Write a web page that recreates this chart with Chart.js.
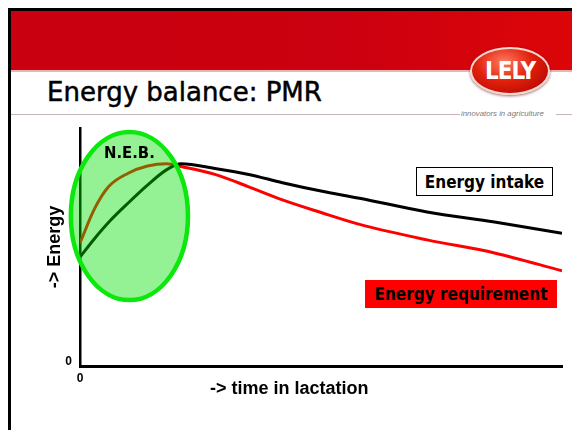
<!DOCTYPE html>
<html>
<head>
<meta charset="utf-8">
<script src="https://cdn.jsdelivr.net/npm/chart.js@4.4.1/dist/chart.umd.min.js"></script>
<style>
  html, body { margin: 0; padding: 0; background: #fff; }
  #slide { position: relative; width: 572px; height: 430px; overflow: hidden; background: #fff; }
  #slide div { position: absolute; }
  .frameTop { left: 8px; top: 8px; width: 564px; height: 3px; background: #000; }
  .frameLeft { left: 8px; top: 8px; width: 3px; height: 422px; background: #000; }
  .band { left: 11px; top: 11px; right: 0; height: 59px; background: linear-gradient(to right, #c8000f 0%, #cc0010 60%, #dc0608 100%); }
  .bandEdge { left: 11px; top: 70px; right: 0; height: 2px; background: #eab4b4; }
  .title { left: 47px; top: 79px; font: 26px/26px "DejaVu Sans", sans-serif; color: #000; white-space: nowrap; -webkit-text-stroke: 0.5px #000; }
  .rule1 { left: 11px; top: 114px; width: 449px; height: 1px; background: #c8b4b4; }
  .rule2 { left: 556px; top: 114px; width: 16px; height: 1px; background: #c8b4b4; }
  .tagline { left: 461px; top: 109px; font: italic 7.8px/10px "Liberation Sans", sans-serif; color: #807878; white-space: nowrap; }
  .logo { left: 470px; top: 47px; width: 76px; height: 44px; border-radius: 50%; border: 2px solid #f3d6cf;
          background: radial-gradient(ellipse at 42% 30%, #ff7a60 0%, #e0200c 45%, #a80000 100%);
          box-shadow: 0 1px 3px rgba(90,0,0,0.6); color: #fff; text-align: center;
          font: bold 24px/44px "DejaVu Sans Condensed", "DejaVu Sans", sans-serif; letter-spacing: -1px; }
  canvas { position: absolute; left: 0; top: 0; }
  .neb { left: 104px; top: 144px; font: bold 16.5px/18px "DejaVu Sans Condensed", "DejaVu Sans", sans-serif; color: #000; z-index: 2; }
  .tag { display: flex; align-items: center; justify-content: center; box-sizing: border-box; z-index: 2;
         font: bold 17px/20px "DejaVu Sans Condensed", "DejaVu Sans", sans-serif; color: #000; white-space: nowrap; }
  .intake { left: 416px; top: 167px; width: 137px; height: 29px; background: #fff; border: 1px solid #000; }
  .req { left: 365px; top: 280px; width: 192px; height: 28px; background: #ff0000; }
  .xTitle { left: 210px; top: 377px; font: bold 18px/22px "Liberation Sans", Arial, sans-serif; color: #000; white-space: nowrap; z-index: 2; }
</style>
</head>
<body>
<div id="slide">
  <div class="band"></div>
  <div class="bandEdge"></div>
  <div class="frameTop"></div>
  <div class="frameLeft"></div>
  <div class="title">Energy balance: PMR</div>
  <div class="rule1"></div>
  <div class="rule2"></div>
  <div class="tagline">innovators in agriculture</div>
  <div class="logo">LELY</div>
  <canvas id="diagram" width="572" height="430"></canvas>
  <div class="neb">N.E.B.</div>
  <div class="tag intake">Energy intake</div>
  <div class="tag req">Energy requirement</div>
  <div class="xTitle">-&gt; time in lactation</div>
</div>
<script>
var days = [0, 3, 6, 10, 14, 18, 21, 28, 35, 42, 50, 58, 72, 86, 100];
var energyIntake = [45.8, 53.5, 60.5, 68.5, 76, 82.5, 85, 83, 80.5, 77, 73.5, 70.5, 64.7, 60.5, 55.8];
var energyRequirement = [51.7, 66, 75.5, 81, 84, 85, 83.8, 80.5, 75.3, 69.8, 64.5, 59.5, 53, 47.5, 40];
var xTicks = [0];
var yTicks = [0];

// zone N.E.B. (bilan energetique negatif), en unites des axes
var nebZone = { xMin: -1.9, xMax: 22.4, yMin: 27.7, yMax: 98.3 };

function toPoints(values) {
  return days.map(function (d, i) {
    return { x: d, y: values[i] };
  });
}

// ellipse verte dessinee par-dessus les courbes
var nebPlugin = {
  id: 'nebZone',
  afterDatasetsDraw: function (chart) {
    var ctx = chart.ctx;
    var xs = chart.scales.x, ys = chart.scales.y;
    var x0 = xs.getPixelForValue(nebZone.xMin), x1 = xs.getPixelForValue(nebZone.xMax);
    var y0 = ys.getPixelForValue(nebZone.yMax), y1 = ys.getPixelForValue(nebZone.yMin);
    ctx.save();
    ctx.beginPath();
    ctx.ellipse((x0 + x1) / 2, (y0 + y1) / 2, (x1 - x0) / 2, (y1 - y0) / 2, 0, 0, 2 * Math.PI);
    ctx.fillStyle = 'rgba(0, 225, 0, 0.42)';
    ctx.fill();
    ctx.lineWidth = 4.5;
    ctx.strokeStyle = '#0be80b';
    ctx.stroke();
    ctx.restore();
  }
};

var tickFont = { family: '"Liberation Sans", Arial, sans-serif', weight: 'bold', size: 12 };

var ctx = document.getElementById('diagram').getContext('2d');
var myChart = new Chart(ctx, {
  type: 'line',
  data: {
    datasets: [{
      label: 'Energy intake',
      data: toPoints(energyIntake),
      borderColor: '#000000',
      borderWidth: 3,
      pointRadius: 0,
      cubicInterpolationMode: 'monotone'
    }, {
      label: 'Energy requirement',
      data: toPoints(energyRequirement),
      borderColor: '#ff0000',
      borderWidth: 3,
      pointRadius: 0,
      cubicInterpolationMode: 'monotone'
    }]
  },
  options: {
    responsive: false,
    animation: false,
    layout: { padding: { top: 128, right: 10, left: 0, bottom: 0 } },
    plugins: { legend: { display: false }, tooltip: { enabled: false } },
    scales: {
      x: {
        type: 'linear',
        min: 0,
        max: 100,
        grid: { display: false, drawTicks: false },
        border: { display: true, color: '#000', width: 3 },
        afterBuildTicks: function (axis) {
          axis.ticks = xTicks.map(function (v) { return { value: v }; });
        },
        afterFit: function (axis) { axis.height = 64; },
        ticks: { color: '#000', font: tickFont, padding: 5, maxRotation: 0 }
      },
      y: {
        type: 'linear',
        min: 0,
        max: 100,
        grid: { display: false, drawTicks: false },
        border: { display: true, color: '#000', width: 2.5 },
        afterBuildTicks: function (axis) {
          axis.ticks = yTicks.map(function (v) { return { value: v }; });
        },
        afterFit: function (axis) { axis.width = 80; },
        ticks: { color: '#000', font: tickFont, padding: 8, labelOffset: -4 },
        title: {
          display: true,
          text: '-> Energy',
          color: '#000',
          font: { family: '"Liberation Sans", Arial, sans-serif', weight: 'bold', size: 18 },
          padding: { top: 44, bottom: 0 }
        }
      }
    }
  },
  plugins: [nebPlugin]
});
</script>
</body>
</html>
